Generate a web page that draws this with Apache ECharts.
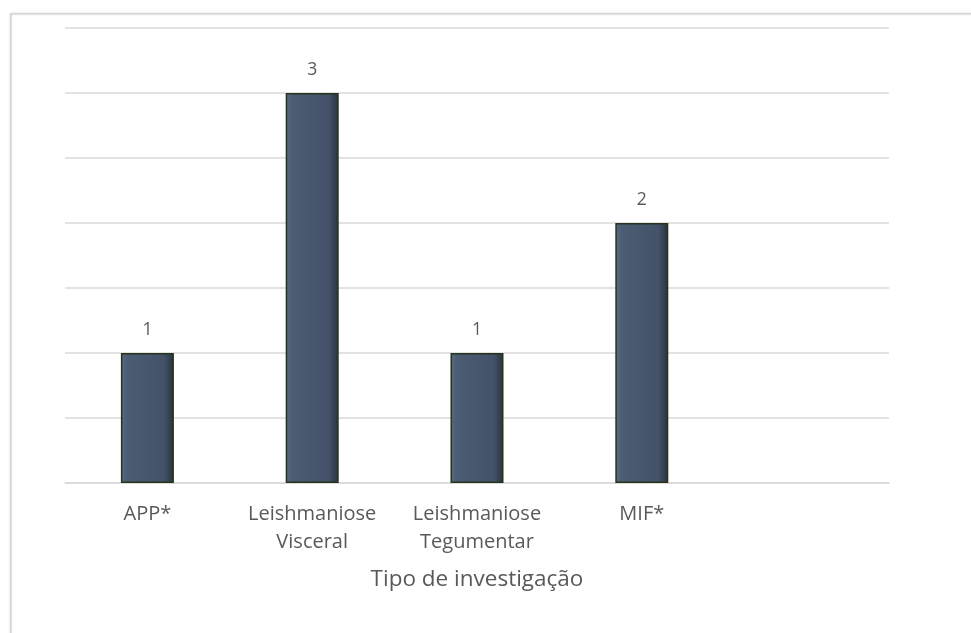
<!DOCTYPE html>
<html><head><meta charset="utf-8">
<script src="https://cdn.jsdelivr.net/npm/echarts@6/dist/echarts.min.js"></script>
<style>html,body{margin:0;padding:0;background:#fff}#c{width:971px;height:633px}</style>
</head><body><div id="c"></div>
<script>
const categories = ['APP*', 'Leishmaniose\nVisceral', 'Leishmaniose\nTegumentar', 'MIF*', ''];
const values = [1, 3, 1, 2, null];
const axisTitle = 'Tipo de investigação';
const yMin = 0, yMax = 3.5, yStep = 0.5;

const chart = echarts.init(document.getElementById('c'), null, {renderer: 'canvas'});
const font = '"Open Sans", "Noto Sans", sans-serif';
chart.setOption({
  animation: false,
  backgroundColor: '#ffffff',
  graphic: [{
    type: 'rect', left: 10, top: 13, z: -1,
    shape: {width: 975, height: 640},
    style: {fill: '#fff', stroke: '#d4d4d4', lineWidth: 1.5, shadowBlur: 3, shadowColor: 'rgba(0,0,0,0.12)'}
  }],
  grid: {left: 65, right: 82, top: 28, bottom: 150, containLabel: false},
  xAxis: {
    type: 'category', data: categories,
    name: axisTitle, nameLocation: 'middle', nameGap: 85,
    nameTextStyle: {color: '#595959', fontSize: 22.5, fontFamily: font},
    axisLine: {lineStyle: {color: '#d9d9d9', width: 1.5}},
    axisTick: {show: false},
    axisLabel: {color: '#595959', fontSize: 20, fontFamily: font, lineHeight: 28, margin: 17, interval: 0}
  },
  yAxis: {
    type: 'value', min: yMin, max: yMax, interval: yStep,
    axisLabel: {show: false}, axisLine: {show: false}, axisTick: {show: false},
    splitLine: {lineStyle: {color: '#d9d9d9', width: 1.5}}
  },
  series: [{
    type: 'bar', data: values, barWidth: 53,
    itemStyle: {
      color: new echarts.graphic.LinearGradient(0, 0, 1, 0, [
        {offset: 0, color: '#5a6a82'},
        {offset: 0.12, color: '#4c5c73'},
        {offset: 0.82, color: '#435268'},
        {offset: 1, color: '#28323f'}
      ]),
      borderColor: '#26341c', borderWidth: 1.5
    },
    label: {show: true, position: 'top', distance: 14, color: '#595959', fontSize: 17.5, fontFamily: font}
  }]
});
</script></body></html>
